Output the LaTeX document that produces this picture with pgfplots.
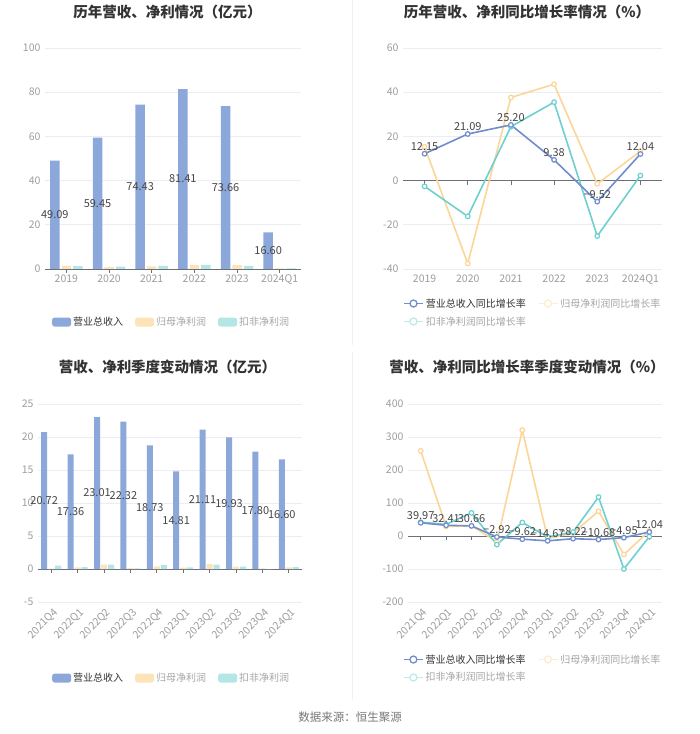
\documentclass[border=0pt]{standalone}
\usepackage{fontspec}
\setmainfont{Noto Sans CJK SC}
\usepackage{pgfplots}
\pgfplotsset{compat=1.18}
\definecolor{barblue}{RGB}{140,168,218}
\definecolor{barorange}{RGB}{253,227,184}
\definecolor{barteal}{RGB}{181,230,230}
\definecolor{lineblue}{RGB}{112,141,206}
\definecolor{lineorange}{RGB}{251,214,152}
\definecolor{lineteal}{RGB}{110,208,208}
\definecolor{gridc}{RGB}{234,237,242}
\definecolor{axisc}{RGB}{110,112,121}
\definecolor{tickc}{RGB}{158,158,158}
\definecolor{labc}{RGB}{70,70,70}
\definecolor{titc}{RGB}{51,51,51}
\definecolor{legdark}{RGB}{51,51,51}
\definecolor{leggray}{RGB}{165,165,165}
\definecolor{sepc}{RGB}{240,240,240}
\definecolor{srcc}{RGB}{120,120,120}

\pgfplotsset{
  base/.style={
    scale only axis,
    axis line style={draw=none},
    major tick length=0pt,
    xtick pos=bottom, ytick pos=left,
    ymajorgrids, grid style={gridc, line width=0.8pt},
    extra y ticks={0}, extra y tick labels={},
    extra y tick style={grid=major, major grid style={axisc, line width=0.9pt}},
    tick label style={font=\fontsize{10.5}{12}\selectfont, text=tickc},
    /pgf/number format/assume math mode=true,
    yticklabel style={xshift=-1pt},
    xticklabel style={yshift=-2pt},
    clip=false,
    legend style={draw=none, fill=none, inner sep=0pt, text=legdark,
      font=\fontsize{10}{12}\selectfont, row sep=4pt,
      /tikz/every even column/.append style={column sep=10pt}},
    legend cell align=left,
  },
  barlab/.style={
    nodes near coords={\pgfmathprintnumber[fixed,fixed zerofill,precision=2]{\pgfplotspointmeta}},
    visualization depends on={rawy \as \rawy},
    every node near coord/.append style={anchor=center, yshift={-#1*\rawy}, font=\fontsize{11}{13}\selectfont, text=labc, inner sep=1pt},
  },
  linelab/.style={
    point meta=explicit symbolic,
    nodes near coords={\pgfplotspointmeta},
    every node near coord/.append style={anchor=south, yshift=1.5pt, font=\fontsize{11}{13}\selectfont, text=labc, inner sep=1pt},
  },
  barleg/.style={legend image code/.code={\fill[#1, rounded corners=2.5pt] (0pt,-4.5pt) rectangle (19pt,4.5pt);}},
  lineleg/.style={legend image code/.code={\draw[#1, line width=1.6pt] (0pt,0pt) -- (19pt,0pt); \draw[#1, line width=1.3pt, fill=white] (9.5pt,0pt) circle (3.5pt);}},
  lstyle/.style={#1, line width=1.6pt, mark=*, mark size=2.3pt, mark options={fill=white, draw=#1, line width=1.2pt}},
}

\begin{document}
\begin{tikzpicture}
\path[use as bounding box, fill=white] (0pt,0pt) rectangle (700pt,734pt);
\draw[sepc, line width=0.8pt] (352pt,734pt) -- (352pt,389pt);
\draw[sepc, line width=0.8pt] (352pt,382pt) -- (352pt,34pt);

\node[font=\bfseries\fontsize{14.5}{16}\selectfont, text=titc] at (167.5pt,722pt) {历年营收、净利情况（亿元）};
\node[font=\bfseries\fontsize{14.5}{16}\selectfont, text=titc] at (527pt,722pt) {历年营收、净利同比增长率情况（\%）};
\node[font=\bfseries\fontsize{14.5}{16}\selectfont, text=titc] at (167.5pt,367pt) {营收、净利季度变动情况（亿元）};
\node[font=\bfseries\fontsize{14.5}{16}\selectfont, text=titc] at (527pt,367pt) {营收、净利同比增长率季度变动情况（\%）};
\node[font=\fontsize{11.5}{13}\selectfont, text=srcc] at (350pt,17pt) {数据来源：恒生聚源};

% ---------- top left ----------
\begin{axis}[base, at={(45pt,465pt)}, anchor=south west, width=256pt, height=221pt,
  ymin=0, ymax=100, ytick={0,20,...,100},
  xmin=-0.5, xmax=5.5, xtick={0,...,5}, xticklabels={2019,2020,2021,2022,2023,2024Q1},
  ybar, bar width=9.5pt,
  legend columns=3, legend style={at={(0.027,-0.24)}, anchor=west}]
\addplot[bar shift=-11.5pt, fill=barblue, draw=none, barleg=barblue, barlab=1.105pt]
  coordinates {(0,49.09) (1,59.45) (2,74.43) (3,81.41) (4,73.66) (5,16.60)};
\addlegendentry{营业总收入}
\addplot[bar shift=0pt, fill=barorange, draw=none, barleg=barorange]
  coordinates {(0,1.45) (1,0.90) (2,1.24) (3,1.78) (4,1.75) (5,0.25)};
\addlegendentry[text=leggray]{归母净利润}
\addplot[bar shift=11.5pt, fill=barteal, draw=none, barleg=barteal]
  coordinates {(0,1.30) (1,1.09) (2,1.36) (3,1.84) (4,1.38) (5,0.28)};
\addlegendentry[text=leggray]{扣非净利润}
\pgfplotsinvokeforeach{0,...,5}{\draw[axisc, line width=0.8pt] (axis cs:#1,0) -- ++(0pt,-4pt);}
\end{axis}

% ---------- top right ----------
\begin{axis}[base, at={(403pt,465pt)}, anchor=south west, width=259pt, height=221pt,
  ymin=-40, ymax=60, ytick={-40,-20,...,60},
  xmin=-0.5, xmax=5.5, xtick={0,...,5}, xticklabels={2019,2020,2021,2022,2023,2024Q1},
  legend columns=2, legend style={at={(0,-0.197)}, anchor=west}]
\addlegendimage{lineleg=lineblue}
\addlegendentry{营业总收入同比增长率}
\addlegendimage{lineleg=lineorange!45}
\addlegendentry[text=leggray]{归母净利润同比增长率}
\addlegendimage{lineleg=lineteal!45}
\addlegendentry[text=leggray]{扣非净利润同比增长率}
\addplot[lstyle=lineorange, forget plot]
  coordinates {(0,15.3) (1,-37.5) (2,37.6) (3,43.6) (4,-1.5) (5,13.3)};
\addplot[lstyle=lineteal, forget plot]
  coordinates {(0,-2.6) (1,-16.2) (2,24.4) (3,35.5) (4,-25.1) (5,2.3)};
\addplot[lstyle=lineblue, linelab, forget plot]
  coordinates {(0,12.15) [12.15] (1,21.09) [21.09] (2,25.20) [25.20] (3,9.38) [9.38] (4,-9.52) [−9.52] (5,12.04) [12.04]};
\pgfplotsinvokeforeach{0,...,5}{\draw[axisc, line width=0.8pt] (axis cs:#1,0) -- ++(0pt,-4pt);}
\end{axis}

% ---------- bottom left ----------
\begin{axis}[base, at={(38pt,132pt)}, anchor=south west, width=264pt, height=198pt,
  ymin=-5, ymax=25, ytick={-5,0,...,25},
  xmin=-0.5, xmax=9.5, xtick={0,...,9},
  xticklabels={2021Q4,2022Q1,2022Q2,2022Q3,2022Q4,2023Q1,2023Q2,2023Q3,2023Q4,2024Q1},
  xticklabel style={rotate=45, anchor=north east, yshift=0pt, xshift=2pt},
  ybar, bar width=6pt,
  legend columns=3, legend style={at={(0.053,-0.384)}, anchor=west}]
\addplot[bar shift=-7pt, fill=barblue, draw=none, barleg=barblue, barlab=3.3pt]
  coordinates {(0,20.72) (1,17.36) (2,23.01) (3,22.32) (4,18.73) (5,14.81) (6,21.11) (7,19.93) (8,17.80) (9,16.60)};
\addlegendentry{营业总收入}
\addplot[bar shift=0pt, fill=barorange, draw=none, barleg=barorange]
  coordinates {(0,0.05) (1,0.25) (2,0.65) (3,0.12) (4,0.40) (5,0.20) (6,0.75) (7,0.35) (8,0.10) (9,0.25)};
\addlegendentry[text=leggray]{归母净利润}
\addplot[bar shift=7pt, fill=barteal, draw=none, barleg=barteal]
  coordinates {(0,0.50) (1,0.27) (2,0.65) (3,0.10) (4,0.60) (5,0.25) (6,0.65) (7,0.35) (8,-0.02) (9,0.30)};
\addlegendentry[text=leggray]{扣非净利润}
\pgfplotsinvokeforeach{0,...,9}{\draw[axisc, line width=0.8pt] (axis cs:#1,0) -- ++(0pt,-4pt);}
\end{axis}

% ---------- bottom right ----------
\begin{axis}[base, at={(408pt,132pt)}, anchor=south west, width=254pt, height=198pt,
  ymin=-200, ymax=400, ytick={-200,-100,...,400},
  xmin=-0.5, xmax=9.5, xtick={0,...,9},
  xticklabels={2021Q4,2022Q1,2022Q2,2022Q3,2022Q4,2023Q1,2023Q2,2023Q3,2023Q4,2024Q1},
  xticklabel style={rotate=45, anchor=north east, yshift=0pt, xshift=2pt},
  legend columns=2, legend style={at={(-0.02,-0.336)}, anchor=west}]
\addlegendimage{lineleg=lineblue}
\addlegendentry{营业总收入同比增长率}
\addlegendimage{lineleg=lineorange!45}
\addlegendentry[text=leggray]{归母净利润同比增长率}
\addlegendimage{lineleg=lineteal!45}
\addlegendentry[text=leggray]{扣非净利润同比增长率}
\addplot[lstyle=lineorange, forget plot]
  coordinates {(0,258) (1,29) (2,31) (3,-18) (4,321) (5,-8) (6,9) (7,75) (8,-56) (9,15)};
\addplot[lstyle=lineteal, forget plot]
  coordinates {(0,42) (1,35) (2,70) (3,-26) (4,41) (5,-3) (6,12) (7,118) (8,-100) (9,-2)};
\addplot[lstyle=lineblue, linelab, forget plot]
  coordinates {(0,39.97) [39.97] (1,32.41) [32.41] (2,30.66) [30.66] (3,-2.92) [−2.92] (4,-9.62) [−9.62] (5,-14.67) [−14.67] (6,-8.22) [−8.22] (7,-10.68) [−10.68] (8,-4.95) [−4.95] (9,12.04) [12.04]};
\pgfplotsinvokeforeach{0,...,9}{\draw[axisc, line width=0.8pt] (axis cs:#1,0) -- ++(0pt,-4pt);}
\end{axis}
\end{tikzpicture}
\end{document}
